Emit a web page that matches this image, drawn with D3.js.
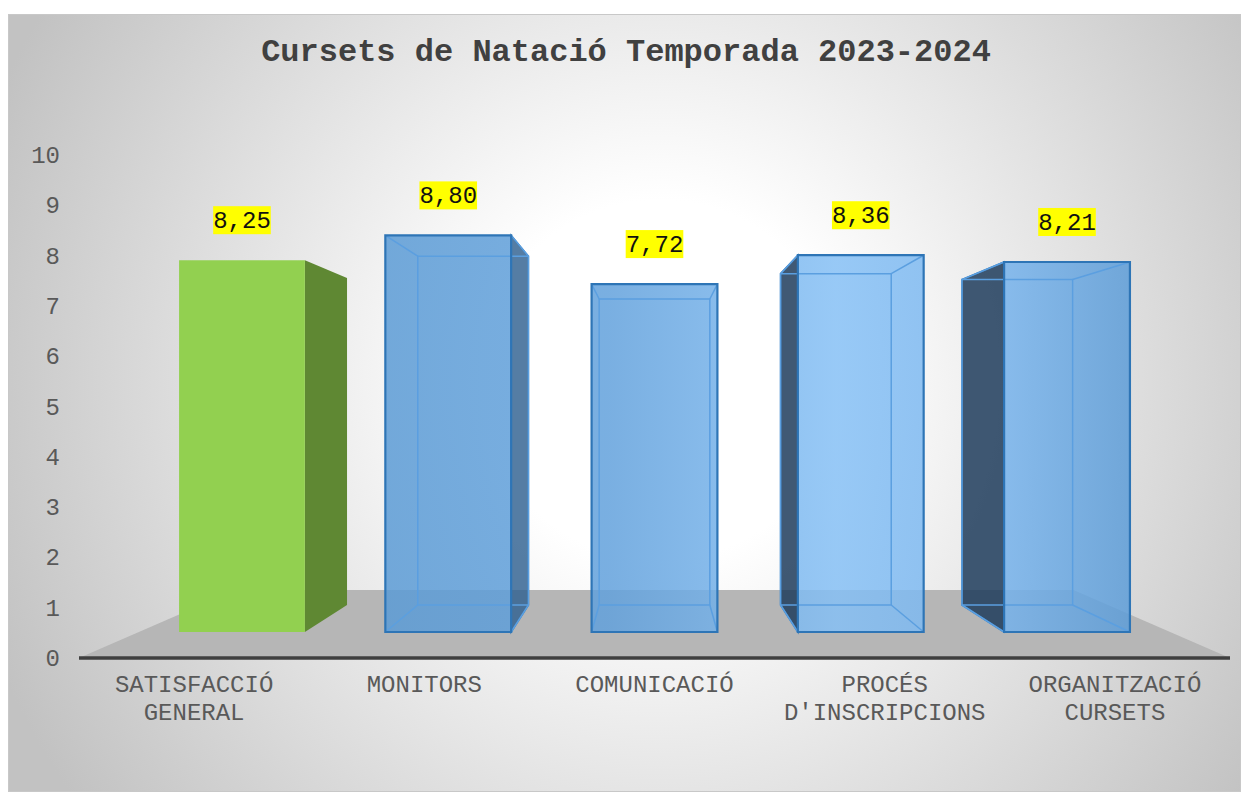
<!DOCTYPE html>
<html>
<head>
<meta charset="utf-8">
<script src="https://cdn.jsdelivr.net/npm/d3@7"></script>
<style>
  body { margin: 0; background: #ffffff; }
  text { font-family: "Liberation Mono", "DejaVu Sans Mono", monospace; }
</style>
</head>
<body>
<div id="chart"></div>
<script>
var title = "Cursets de Natació Temporada 2023-2024";
var categories = ["SATISFACCIÓ GENERAL", "MONITORS", "COMUNICACIÓ", "PROCÉS D'INSCRIPCIONS", "ORGANITZACIÓ CURSETS"];
var categoryLines = [["SATISFACCIÓ", "GENERAL"], ["MONITORS"], ["COMUNICACIÓ"], ["PROCÉS", "D'INSCRIPCIONS"], ["ORGANITZACIÓ", "CURSETS"]];
var values = [8.25, 8.80, 7.72, 8.36, 8.21];
var yTicks = [0, 1, 2, 3, 4, 5, 6, 7, 8, 9, 10];

var width = 1249, height = 793;

var svg = d3.select("#chart").append("svg")
    .attr("width", width)
    .attr("height", height);

var defs = svg.append("defs");

var bg = defs.append("radialGradient")
    .attr("id", "bgGrad")
    .attr("gradientUnits", "userSpaceOnUse")
    .attr("cx", 660).attr("cy", 380).attr("r", 720);
bg.append("stop").attr("offset", 0).attr("stop-color", "#ffffff");
bg.append("stop").attr("offset", 0.25).attr("stop-color", "#ffffff");
bg.append("stop").attr("offset", 1).attr("stop-color", "#c2c2c2");

// front faces get lighter towards the right, like the excel lighting
var blue = defs.append("linearGradient")
    .attr("id", "blueGrad")
    .attr("gradientUnits", "userSpaceOnUse")
    .attr("x1", 380).attr("x2", 1140).attr("y1", 0).attr("y2", 0);
blue.append("stop").attr("offset", 0).attr("stop-color", "#5b9bd5");
blue.append("stop").attr("offset", 0.3).attr("stop-color", "#62a1dc");
blue.append("stop").attr("offset", 0.6).attr("stop-color", "#86c0f5");
blue.append("stop").attr("offset", 0.8).attr("stop-color", "#79b5ee");
blue.append("stop").attr("offset", 1).attr("stop-color", "#5b9bd6");

svg.append("rect")
    .attr("x", 8.5).attr("y", 14.5)
    .attr("width", 1232).attr("height", 777)
    .attr("fill", "url(#bgGrad)")
    .attr("stroke", "#c8c8c8");

svg.append("text")
    .attr("x", 626).attr("y", 61)
    .attr("text-anchor", "middle")
    .attr("font-size", 32)
    .attr("font-weight", "bold")
    .attr("fill", "#404040")
    .text(title);

// scales at the front plane of the floor
var x = d3.scaleBand().domain(categories).range([79, 1230]);
var y = d3.scaleLinear().domain([0, 10]).range([658, 155]);

// simple perspective: s = scale factor of a depth plane
var cx = (x.range()[0] + x.range()[1]) / 2, hy = 408;
var sFront = 0.896, sBack = 0.788, sFloor = 0.728;
var barFrac = 0.61;

function proj(wx, v, s) {
    return [cx + (wx - cx) * s, hy + (y(v) - hy) * s];
}
function poly(pts) {
    return "M" + pts.map(function (p) { return p[0] + "," + p[1]; }).join("L") + "Z";
}

// floor
var x0 = x.range()[0], x1 = x.range()[1];
svg.append("path")
    .attr("d", poly([proj(x0, 0, 1), proj(x1, 0, 1), proj(x1, 0, sFloor), proj(x0, 0, sFloor)]))
    .attr("fill", "#b6b6b6");

svg.append("line")
    .attr("x1", x0).attr("x2", x1)
    .attr("y1", y(0)).attr("y2", y(0))
    .attr("stroke", "#3f3f3f")
    .attr("stroke-width", 3.5);

// y labels
svg.selectAll(".ytick")
    .data(yTicks)
    .enter().append("text")
    .attr("class", "ytick")
    .attr("x", 60)
    .attr("y", function (d) { return y(d) + 8; })
    .attr("text-anchor", "end")
    .attr("font-size", 24)
    .attr("fill", "#595959")
    .text(function (d) { return d; });

// category labels
categories.forEach(function (c, i) {
    var t = svg.append("text")
        .attr("text-anchor", "middle")
        .attr("font-size", 24)
        .attr("fill", "#595959");
    categoryLines[i].forEach(function (line, j) {
        t.append("tspan")
            .attr("x", x(c) + x.bandwidth() / 2)
            .attr("y", 692 + j * 28)
            .text(line);
    });
});

// bars
var fmt = d3.format(".2f");
categories.forEach(function (c, i) {
    var v = values[i];
    var mid = x(c) + x.bandwidth() / 2;
    var half = x.bandwidth() * barFrac / 2;
    var l = mid - half, r = mid + half;
    var g = svg.append("g");

    var front = [proj(l, 0, sFront), proj(r, 0, sFront), proj(r, v, sFront), proj(l, v, sFront)];
    var back = [proj(l, 0, sBack), proj(r, 0, sBack), proj(r, v, sBack), proj(l, v, sBack)];
    var rightSide = [front[1], back[1], back[2], front[2]];
    var leftSide = [front[0], back[0], back[3], front[3]];

    if (i === 0) {
        g.append("path").attr("d", poly(rightSide)).attr("fill", "#5f8833");
        g.append("path").attr("d", poly(front)).attr("fill", "#92d050");
    } else {
        if (r < cx) {
            g.append("path").attr("d", poly(rightSide))
                .attr("fill", "#2f6090").attr("fill-opacity", 0.82)
                .attr("stroke", "#2e75b6").attr("stroke-width", 1.5);
        }
        if (l > cx) {
            g.append("path").attr("d", poly(leftSide))
                .attr("fill", "#1f3c5c").attr("fill-opacity", 0.85)
                .attr("stroke", "#2e75b6").attr("stroke-width", 1.5);
        }
        g.append("path").attr("d", poly(front))
            .attr("fill", "url(#blueGrad)").attr("fill-opacity", 0.85);
        // hidden edges seen through the glass
        g.append("path").attr("d", poly(back))
            .attr("fill", "none").attr("stroke", "#5b9fe0").attr("stroke-width", 1.5);
        for (var k = 0; k < 4; k++) {
            g.append("line")
                .attr("x1", front[k][0]).attr("y1", front[k][1])
                .attr("x2", back[k][0]).attr("y2", back[k][1])
                .attr("stroke", "#5b9fe0").attr("stroke-width", 1.5);
        }
        g.append("path").attr("d", poly(front))
            .attr("fill", "none").attr("stroke", "#2e75b6").attr("stroke-width", 2.2);
    }

    var top = front[3][1];
    var lx = (front[0][0] + front[1][0]) / 2;
    var label = fmt(v).replace(".", ",");
    var lw = label.length * 14.4;
    g.append("rect")
        .attr("x", lx - lw / 2).attr("y", top - 54)
        .attr("width", lw).attr("height", 28)
        .attr("fill", "#ffff00");
    g.append("text")
        .attr("x", lx).attr("y", top - 32)
        .attr("text-anchor", "middle")
        .attr("font-size", 24)
        .attr("fill", "#111111")
        .text(label);
});
</script>
</body>
</html>
